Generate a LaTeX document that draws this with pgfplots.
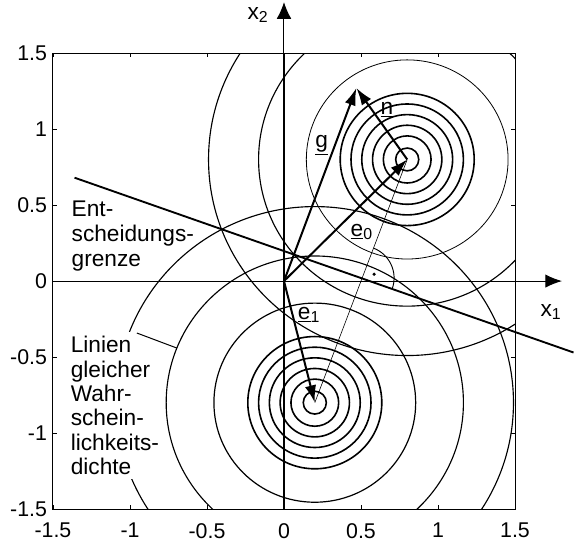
\documentclass[border=0pt]{standalone}
\usepackage{fontspec}
\setmainfont{Liberation Sans}
\usepackage{pgfplots}
\pgfplotsset{compat=1.18}
\usetikzlibrary{arrows.meta}
\pgfplotsset{base/.style={x=115.5pt,y=114pt,xmin=-1.5,xmax=1.5,ymin=-1.5,ymax=1.5,at={(0,0)},anchor=south west}}
\tikzset{hd/.style={-{Latex[length=13pt,width=8.5pt]}}}
\begin{document}
\begin{tikzpicture}
% axis box, ticks and circles (clipped)
\begin{axis}[base,
  xtick={-1.5,-1,-0.5,0,0.5,1,1.5},
  ytick={-1.5,-1,-0.5,0,0.5,1,1.5},
  tick align=inside, major tick length=3pt,
  tick style={line width=0.6pt,black},
  axis line style={line width=0.75pt},
  /pgf/number format/assume math mode=true,
  tick label style={font=\fontsize{16}{18}\selectfont},
  xticklabel style={yshift=-7pt},
  yticklabel style={xshift=-1pt},
]
% upper class
\draw[line width=1.2pt] (axis cs:0.8,0.8) circle[radius=0.075];
\draw[line width=1.2pt] (axis cs:0.8,0.8) circle[radius=0.155];
\draw[line width=1.2pt] (axis cs:0.8,0.8) circle[radius=0.225];
\draw[line width=1.2pt] (axis cs:0.8,0.8) circle[radius=0.295];
\draw[line width=1.2pt] (axis cs:0.8,0.8) circle[radius=0.365];
\draw[line width=1.2pt] (axis cs:0.8,0.8) circle[radius=0.435];
\draw[line width=0.6pt] (axis cs:0.8,0.8) circle[radius=0.655];
\draw[line width=0.85pt] (axis cs:0.8,0.8) circle[radius=0.965];
\draw[line width=0.85pt] (axis cs:0.8,0.8) circle[radius=1.29];
% lower class
\draw[line width=1.2pt] (axis cs:0.2,-0.8) circle[radius=0.075];
\draw[line width=1.2pt] (axis cs:0.2,-0.8) circle[radius=0.155];
\draw[line width=1.2pt] (axis cs:0.2,-0.8) circle[radius=0.225];
\draw[line width=1.2pt] (axis cs:0.2,-0.8) circle[radius=0.295];
\draw[line width=1.2pt] (axis cs:0.2,-0.8) circle[radius=0.365];
\draw[line width=1.2pt] (axis cs:0.2,-0.8) circle[radius=0.435];
\draw[line width=0.9pt] (axis cs:0.2,-0.8) circle[radius=0.655];
\draw[line width=0.85pt] (axis cs:0.2,-0.8) circle[radius=0.965];
\draw[line width=0.85pt] (axis cs:0.2,-0.8) circle[radius=1.29];
\end{axis}
% overlay: lines, arrows, labels (not clipped)
\begin{axis}[base, hide axis, clip=false]
% label with white background hiding circle
\node[anchor=north west, align=left, fill=white, inner sep=3pt, xshift=-3pt, yshift=3pt,
  font=\fontsize{17}{18.3}\selectfont] at (axis cs:-1.386,-0.362)
  {Linien\\gleicher\\Wahr-\\schein-\\lichkeits-\\dichte};
\draw[line width=0.75pt] (axis cs:-0.955,-0.342) -- (axis cs:-0.695,-0.441);
\node[anchor=north west, align=left, inner sep=0pt,
  font=\fontsize{17}{18.6}\selectfont] at (axis cs:-1.38,0.528)
  {Ent-\\scheidungs-\\grenze};
% coordinate axes
\addplot[black, mark=none, line width=1.3pt] coordinates {(0,-1.5) (0,1.5)};
\addplot[black, mark=none, line width=0.75pt, -{Latex[length=12.5pt,width=11pt]}] coordinates {(0,1.5) (0,1.835)};
\addplot[black, mark=none, line width=0.75pt, -{Latex[length=12.5pt,width=10pt]}] coordinates {(-1.5,0) (1.805,0)};
% decision boundary
\addplot[black, mark=none, line width=1.4pt] coordinates {(-1.36,0.68) (1.88,-0.47)};
% line between class centres
\addplot[black, mark=none, line width=0.45pt] coordinates {(0.8,0.8) (0.2,-0.8)};
% vectors
\addplot[black, mark=none, line width=1.5pt, hd] coordinates {(0,0) (0.8,0.8)};
\addplot[black, mark=none, line width=1.5pt, hd] coordinates {(0,0) (0.2,-0.8)};
\addplot[black, mark=none, line width=1.5pt, hd] coordinates {(0,0) (0.47,1.27)};
\addplot[black, mark=none, line width=1.5pt, hd] coordinates {(0.8,0.8) (0.47,1.27)};
% right angle mark
\draw[line width=0.7pt] (axis cs:0.507,0.02) ++(69:24pt) arc[start angle=69, end angle=-19, radius=24pt];
\fill (axis cs:0.585,0.045) circle[radius=1.3pt];
% labels
\node[font=\fontsize{17}{20}\selectfont, inner sep=0pt] at (axis cs:0.245,0.895) {\underline{g}};
\node[font=\fontsize{17}{20}\selectfont, inner sep=0pt] at (axis cs:0.669,1.13) {\underline{n}};
\node[font=\fontsize{17}{20}\selectfont, inner sep=0pt] at (axis cs:0.505,0.324) {\underline{e}\textsubscript{0}};
\node[font=\fontsize{17}{20}\selectfont, inner sep=0pt] at (axis cs:0.162,-0.224) {\underline{e}\textsubscript{1}};
\node[font=\fontsize{17}{20}\selectfont, inner sep=0pt] at (axis cs:-0.169,1.75) {x\textsubscript{2}};
\node[font=\fontsize{17}{20}\selectfont, inner sep=0pt] at (axis cs:1.734,-0.204) {x\textsubscript{1}};
\coordinate (BL) at (axis cs:-1.844,-1.717);
\coordinate (TR) at (axis cs:1.883,1.849);
\end{axis}
\pgfresetboundingbox
\path[use as bounding box] (BL) rectangle (TR);
\end{tikzpicture}
\end{document}
